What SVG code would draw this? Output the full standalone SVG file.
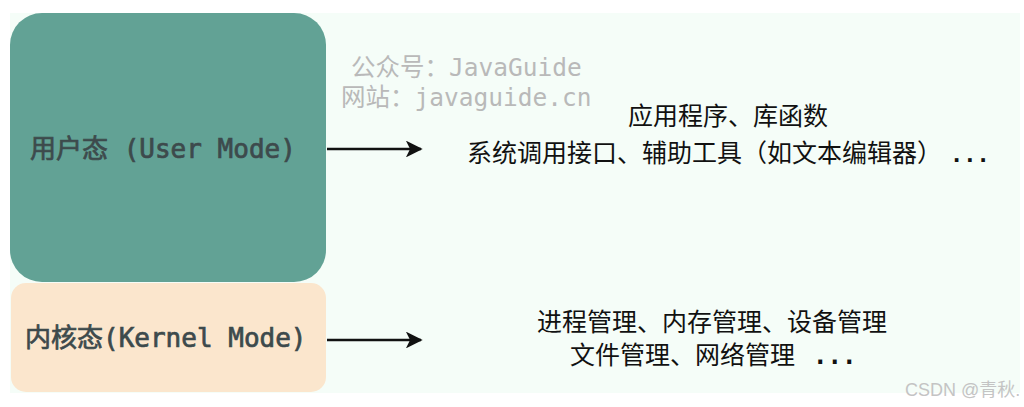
<svg xmlns="http://www.w3.org/2000/svg" width="1024" height="407" viewBox="0 0 1024 407">
  <defs>
    <style>
      .mode { font-family: "DejaVu Sans Mono", "Noto Sans CJK SC", monospace; font-size: 26px; fill: #3d4a4c; stroke: #3d4a4c; stroke-width: 0.7px; }
      .wm { font-family: "DejaVu Sans Mono", "Noto Sans CJK SC", monospace; font-size: 24.5px; fill: #b9b9b9; }
      .desc { font-family: "Noto Sans CJK SC", "Noto Sans", sans-serif; font-size: 25px; fill: #111111; }
      .dots { font-family: "DejaVu Sans Mono", monospace; font-weight: bold; fill: #111111; }
      .csdn { font-family: "Liberation Sans", "Noto Sans CJK SC", sans-serif; font-size: 18px; fill: #c4c4c4; }
      .conn { stroke: #111111; stroke-width: 2.4; fill: none; marker-end: url(#arrow); }
    </style>
    <marker id="arrow" viewBox="0 0 10 10" refX="9" refY="5" markerWidth="8" markerHeight="7" markerUnits="strokeWidth" orient="auto">
      <path d="M0,0 L10,5 L0,10 L2.5,5 Z" fill="#111111"/>
    </marker>
  </defs>
  <rect x="0" y="0" width="1024" height="407" fill="#ffffff"/>
  <rect x="10" y="13" width="1010" height="380" fill="#f5fdf8"/>

  <g id="user-mode">
    <rect x="10" y="13" width="316" height="269" rx="32" ry="32" fill="#62a295"/>
    <text class="mode" x="30" y="158">用户态 (User Mode)</text>
  </g>

  <g id="kernel-mode">
    <rect x="11" y="283" width="315" height="109" rx="15" ry="15" fill="#fbe6cd"/>
    <text class="mode" x="25" y="347">内核态(Kernel Mode)</text>
  </g>

  <g id="watermark">
    <text class="wm" x="351" y="76">公众号：JavaGuide</text>
    <text class="wm" x="341" y="106">网站：javaguide.cn</text>
  </g>

  <g id="user-desc">
    <text class="desc" x="728" y="125" text-anchor="middle">应用程序、库函数</text>
    <text class="desc" x="467" y="162">系统调用接口、辅助工具（如文本编辑器）<tspan class="dots" x="950" font-size="22">...</tspan></text>
  </g>

  <g id="kernel-desc">
    <text class="desc" x="537" y="331">进程管理、内存管理、设备管理</text>
    <text class="desc" x="570" y="364">文件管理、网络管理<tspan class="dots" x="813" font-size="24">...</tspan></text>
  </g>

  <g id="connectors">
    <line class="conn" x1="327" y1="149" x2="421" y2="149"/>
    <line class="conn" x1="327" y1="340" x2="421" y2="340"/>
  </g>

  <text class="csdn" x="905" y="396">CSDN @青秋.</text>
</svg>
